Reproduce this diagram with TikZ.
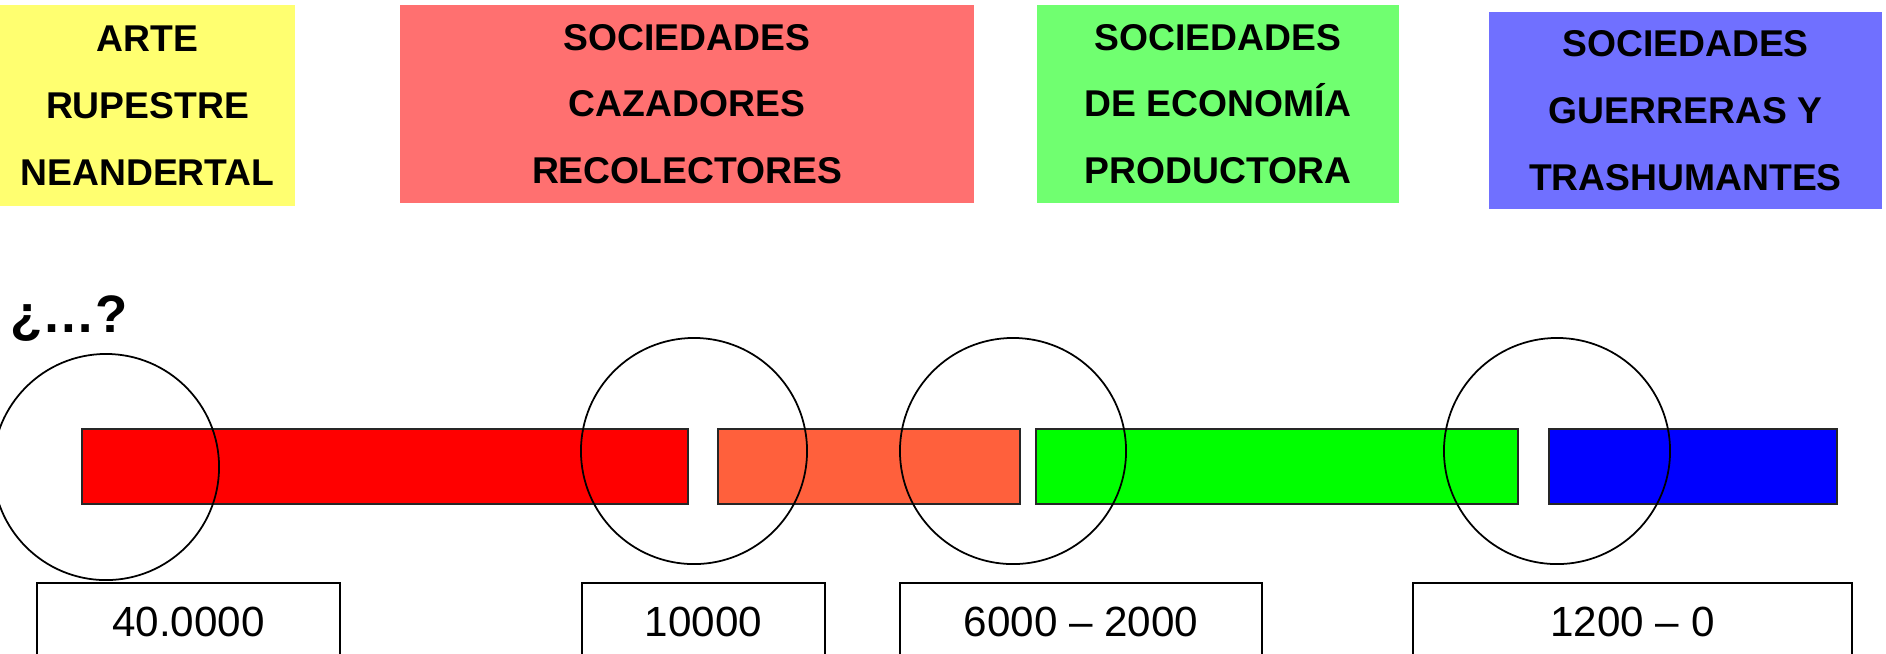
\documentclass[tikz,border=0pt]{standalone}
\usepackage{fontspec}
\setmainfont{Liberation Sans}
\usepackage{xcolor}
\usetikzlibrary{positioning}
\definecolor{amarillo}{RGB}{255,255,112}
\definecolor{salmon}{RGB}{255,112,112}
\definecolor{verdeclaro}{RGB}{112,255,112}
\definecolor{azulclaro}{RGB}{112,112,255}
\definecolor{naranja}{RGB}{255,96,60}

\begin{document}
\begin{tikzpicture}[x=0.01cm,y=-0.01cm,
  era/.style={rectangle,inner sep=0pt,align=center,font=\fontsize{10.6}{19}\selectfont\bfseries},
  bar/.style={rectangle,draw=black!85,line width=0.7pt,minimum height=0.75cm,inner sep=0pt},
  ring/.style={circle,draw,line width=0.5pt,minimum size=2.26cm,inner sep=0pt},
  fecha/.style={rectangle,draw,line width=0.6pt,inner sep=0pt,minimum height=0.78cm,font=\fontsize{12}{14}\selectfont}]
\useasboundingbox (0,0) rectangle (1886,653);
\node[era,fill=amarillo,minimum width=2.95cm,minimum height=2.01cm] (e1) at (147.5,105.5) {ARTE\\RUPESTRE\\NEANDERTAL};
\node[era,fill=salmon,minimum width=5.74cm,minimum height=1.98cm] (e2) at (687,104) {SOCIEDADES\\CAZADORES\\RECOLECTORES};
\node[era,fill=verdeclaro,minimum width=3.62cm,minimum height=1.98cm] (e3) at (1218,104) {SOCIEDADES\\DE ECONOMÍA\\PRODUCTORA};
\node[era,fill=azulclaro,minimum width=3.93cm,minimum height=1.97cm] (e4) at (1685.5,110.5) {SOCIEDADES\\GUERRERAS Y\\TRASHUMANTES};
\node[font=\fontsize{15}{18}\selectfont\bfseries] (q) at (69,319) {¿…?};
% barras
\node[bar,fill=red,minimum width=6.06cm] (b1) at (385,466.5) {};
\node[bar,fill=naranja,minimum width=3.02cm] (b2) at (869,466.5) {};
\node[bar,fill=green,minimum width=4.82cm] (b3) at (1277,466.5) {};
\node[bar,fill=blue,minimum width=2.88cm] (b4) at (1693,466.5) {};
% circulos
\node[ring] (c1) at (106,467) {};
\node[ring] (c2) at (694,451) {};
\node[ring] (c3) at (1013,451) {};
\node[ring] (c4) at (1557,451) {};
% fechas
\node[fecha,minimum width=3.03cm] (f1) at (188.5,622) {40.0000};
\node[fecha,minimum width=2.43cm] (f2) at (703.5,622) {10000};
\node[fecha,minimum width=3.62cm] (f3) at (1081,622) {6000 – 2000};
\node[fecha,minimum width=4.39cm] (f4) at (1632.5,622) {1200 – 0};
\end{tikzpicture}
\end{document}
